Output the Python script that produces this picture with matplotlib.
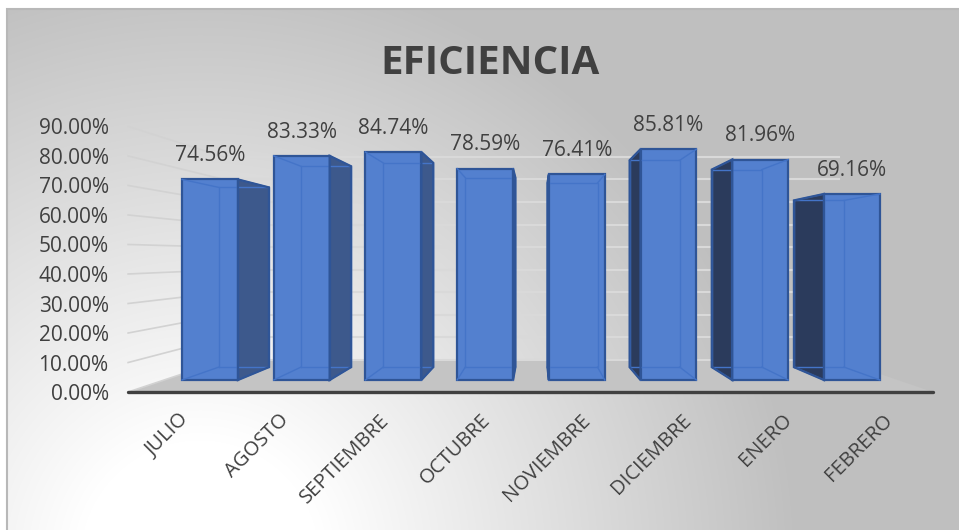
import numpy as np
import matplotlib.pyplot as plt
from matplotlib.patches import Polygon, Rectangle

plt.rcParams["font.family"] = ["Open Sans", "DejaVu Sans"]

# data
meses = ["JULIO", "AGOSTO", "SEPTIEMBRE", "OCTUBRE", "NOVIEMBRE",
         "DICIEMBRE", "ENERO", "FEBRERO"]
eficiencia = [74.56, 83.33, 84.74, 78.59, 76.41, 85.81, 81.96, 69.16]
y_ticks = [0, 10, 20, 30, 40, 50, 60, 70, 80, 90]

# figure size in pixels and the layout of the front plane of the bars
W, H = 959, 530
X0, DX = 210.0, 91.7     # pixel x of first bar centre, pixels per category
Y0, DY = 380.0, 2.69     # pixel y (from top) of 0 %, pixels per percent
VP_PX, VP_PY = 535.5, 256.0   # vanishing point in pixels
F_FLOOR, F_BACK, F_WALL = 1.097, 0.896, 0.839   # depth factors
BAR_W = 0.61

text_color = "#404040"
face = "#5380cf"
edge = "#2f5597"
inner = "#4474c8"
side_right = "#3d598c"
side_left = "#2b3b5c"

VPX = (VP_PX - X0) / DX
VPY = (Y0 - VP_PY) / DY


def proj(x, y, f):
    return VPX + (x - VPX) * f, VPY + (y - VPY) * f


fig = plt.figure(figsize=(W / 100, H / 100), dpi=100)
ax = fig.add_axes([0, 0, 1, 1])
xlim = (-X0 / DX, (W - X0) / DX)
ylim = ((Y0 - H) / DY, Y0 / DY)
ax.set_xlim(xlim)
ax.set_ylim(ylim)
ax.axis("off")

# background: white in the lower left fading to grey
yy, xx = np.mgrid[0:H, 0:W]
r = np.hypot(xx - 200, yy - 560)
t = np.clip((r - 120) / 480, 0, 1)
g = (255 - t * 64) / 255
g[(xx < 7) | (yy < 9)] = 1.0
bg = np.dstack([g, g, g])
ax.imshow(bg, extent=(xlim[0], xlim[1], ylim[0], ylim[1]), origin="upper",
          aspect="auto", zorder=0, interpolation="bilinear")
fig.patches.append(Rectangle((7 / W, -0.01), 1, 1 - 9 / H + 0.01,
                             transform=fig.transFigure, fill=False,
                             edgecolor="#b8b8b8", lw=1.5, zorder=1))

n = len(meses)
left, right = -0.5, n - 0.5

# floor
floor = [proj(left, 0, F_FLOOR), proj(right, 0, F_FLOOR),
         proj(right, 0, F_WALL), proj(left, 0, F_WALL)]
ax.add_patch(Polygon(floor, closed=True, facecolor="#c4c4c4",
                     edgecolor="none", zorder=1))

# gridlines on back and left walls
for v in y_ticks:
    a = proj(left, v, F_WALL)
    b = proj(right, v, F_WALL)
    c = proj(left, v, F_FLOOR)
    ax.plot([a[0], b[0]], [a[1], b[1]], color="#d9d9d9", lw=1.5, zorder=2)
    ax.plot([c[0], a[0]], [c[1], a[1]], color="#d2d2d2", lw=1.2, zorder=2)

# floor front edge
fa, fb = proj(left, 0, F_FLOOR), proj(right, 0, F_FLOOR)
ax.plot([fa[0], fb[0]], [fa[1], fb[1]], color="#404040", lw=2.4,
        solid_capstyle="round", zorder=3)

# bars
x = np.arange(n)
ax.bar(x, eficiencia, width=BAR_W, color=face, edgecolor=edge, lw=1.6,
       zorder=5)
for i, v in enumerate(eficiencia):
    x0, x1 = i - BAR_W / 2, i + BAR_W / 2
    back = [proj(x0, 0, F_BACK), proj(x1, 0, F_BACK),
            proj(x1, v, F_BACK), proj(x0, v, F_BACK)]
    front = [(x0, 0), (x1, 0), (x1, v), (x0, v)]
    if i < VPX:
        side = [front[1], front[2], back[2], back[1]]
        col = side_right
    else:
        side = [front[0], front[3], back[3], back[0]]
        col = side_left
    ax.add_patch(Polygon(side, closed=True, facecolor=col, edgecolor="none",
                         zorder=4))
    # hidden edges showing through the front face
    bx, by = zip(*(back + [back[0]]))
    ax.plot(bx, by, color=inner, lw=1.0, zorder=6)
    for p, q in zip(front, back):
        ax.plot([p[0], q[0]], [p[1], q[1]], color=inner, lw=1.0, zorder=6)
    ax.add_patch(Polygon(side, closed=True, facecolor="none", edgecolor=edge,
                         lw=1.6, zorder=7))
    ax.annotate(f"{v:.2f}%", (i, v), xytext=(0, 17), textcoords="offset points",
                ha="center", va="center", fontsize=15, color=text_color,
                zorder=8)

# axis labels on the front edge of the floor / left wall
p_lo = proj(left, 0, F_FLOOR)
p_hi = proj(right, 90, F_FLOOR)
fx0 = (X0 + DX * p_lo[0]) / W
fx1 = (X0 + DX * p_hi[0]) / W
fy0 = (H - (Y0 - DY * p_lo[1])) / H
fy1 = (H - (Y0 - DY * p_hi[1])) / H
lab = fig.add_axes([fx0, fy0, fx1 - fx0, fy1 - fy0])
lab.patch.set_visible(False)
for s in lab.spines.values():
    s.set_visible(False)
lab.set_xlim(left, right)
lab.set_ylim(0, 90)
lab.set_yticks(y_ticks)
lab.set_yticklabels([f"{v:.2f}%" for v in y_ticks])
lab.set_xticks(x)
lab.set_xticklabels(meses, rotation=45, ha="right", rotation_mode="anchor")
lab.tick_params(axis="y", length=0, pad=14, labelsize=15, labelcolor=text_color)
lab.tick_params(axis="x", length=0, pad=13, labelsize=14.5, labelcolor=text_color)

fig.text(489.5 / W, 1 - 63 / H, "EFICIENCIA", ha="center", va="center",
         fontsize=29, fontweight="bold", color=text_color)

fig.savefig("out.png", dpi=100)
